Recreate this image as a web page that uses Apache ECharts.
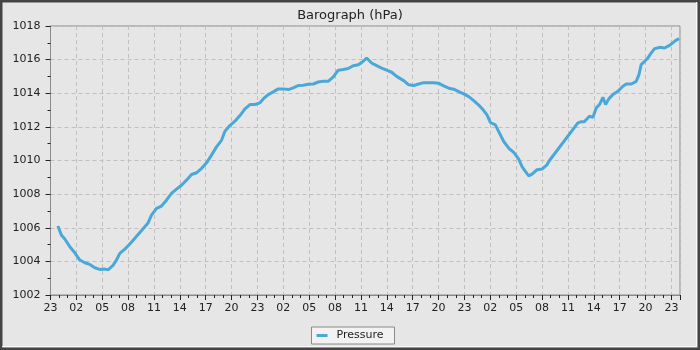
<!DOCTYPE html>
<html>
<head>
<meta charset="utf-8">
<script src="https://cdn.jsdelivr.net/npm/echarts@6/dist/echarts.min.js"></script>
<style>html,body{margin:0;padding:0;background:#e6e6e6;}#c{width:700px;height:350px;}</style>
</head>
<body>
<div id="c"></div>
<script>
// hours since 23:00 of the first day
var hours = [0.85,1.27,1.66,2.24,2.82,3.4,3.98,4.56,5.14,5.72,6.3,6.7,7.27,7.65,8.04,8.62,9.2,9.78,10.36,10.94,11.33,11.71,12.3,12.87,13.45,14.03,14.61,15.19,15.77,16.35,16.93,17.5,18.1,18.67,19.25,19.83,20.23,20.8,21.39,21.97,22.55,23.13,23.7,24.29,24.67,25.25,25.83,26.41,27.0,27.57,28.15,28.73,29.31,29.89,30.47,31.05,31.63,32.2,32.8,33.37,33.95,34.53,35.1,35.7,36.27,36.66,37.24,37.82,38.4,38.98,39.56,40.18,40.96,41.54,42.12,42.7,43.28,43.86,44.44,45.02,45.6,46.18,46.76,47.34,47.92,48.5,49.08,49.66,50.24,50.62,51.01,51.59,51.98,52.56,53.14,53.72,54.3,54.68,55.07,55.46,55.84,56.42,57.0,57.58,57.78,61.16,61.5,61.9,62.1,62.5,62.9,63.29,63.67,64.06,64.37,64.76,65.22,65.8,66.38,66.77,67.35,67.93,68.24,68.5,68.9,69.28,69.67,70.05,70.63,71.21,71.79,72.37,72.88];
var pressure = [1006.1,1005.56,1005.33,1004.87,1004.51,1004.08,1003.92,1003.82,1003.62,1003.52,1003.54,1003.5,1003.78,1004.08,1004.48,1004.73,1005.03,1005.37,1005.72,1006.06,1006.3,1006.75,1007.15,1007.29,1007.64,1008.04,1008.3,1008.53,1008.83,1009.17,1009.27,1009.52,1009.86,1010.32,1010.81,1011.2,1011.74,1012.08,1012.34,1012.67,1013.07,1013.33,1013.33,1013.43,1013.66,1013.92,1014.08,1014.26,1014.26,1014.22,1014.32,1014.46,1014.48,1014.53,1014.55,1014.67,1014.71,1014.71,1014.97,1015.37,1015.41,1015.47,1015.64,1015.7,1015.9,1016.1,1015.8,1015.64,1015.5,1015.37,1015.25,1014.99,1014.75,1014.5,1014.46,1014.55,1014.63,1014.63,1014.63,1014.59,1014.44,1014.3,1014.24,1014.1,1013.96,1013.8,1013.56,1013.3,1012.97,1012.71,1012.26,1012.12,1011.72,1011.13,1010.73,1010.48,1010.08,1009.64,1009.35,1009.09,1009.19,1009.45,1009.49,1009.74,1009.94,1012.24,1012.3,1012.3,1012.3,1012.63,1012.57,1013.13,1013.33,1013.76,1013.33,1013.68,1013.92,1014.12,1014.42,1014.55,1014.55,1014.71,1015.11,1015.7,1015.9,1016.1,1016.4,1016.65,1016.73,1016.69,1016.85,1017.09,1017.25];
var hourLabels = ['23','02','05','08','11','14','17','20','23','02','05','08','11','14','17','20','23','02','05','08','11','14','17','20','23'];
var yTicks = [1002,1004,1006,1008,1010,1012,1014,1016,1018];

var data = hours.map(function(h,i){return [h, pressure[i]];});
var chart = echarts.init(document.getElementById('c'), null, {renderer:'canvas'});
var font = 'DejaVu Sans';
chart.setOption({
  backgroundColor:'#e6e6e6',
  animation:false,
  title:{text:'Barograph (hPa)', left:'center', top:4,
    textStyle:{fontFamily:font, fontSize:13, fontWeight:'normal', color:'#222'}},
  grid:{left:50.5, right:20, top:26, bottom:55, show:true, backgroundColor:'#e6e6e6', borderColor:'#8a8a8a', borderWidth:1},
  legend:{data:['Pressure'], left:'center', top:327, icon:'rect', itemWidth:11, itemHeight:3,
    padding:[3,11,3,5], borderColor:'#8a8a8a', borderWidth:1, backgroundColor:'#f2f2f2', borderRadius:0,
    textStyle:{fontFamily:font, fontSize:11, color:'#222', padding:[0,0,0,4]}},
  xAxis:{type:'value', min:0, max:73, interval:3,
    axisLine:{lineStyle:{color:'#8a8a8a'}},
    axisTick:{show:true, length:5, lineStyle:{color:'#222'}},
    minorTick:{show:true, splitNumber:3, length:3, lineStyle:{color:'#222'}},
    axisLabel:{margin:8, fontFamily:font, fontSize:11, color:'#222', showMaxLabel:false,
      formatter:function(v){var i=Math.round(v/3); return hourLabels[i]!==undefined?hourLabels[i]:'';}},
    splitLine:{show:true, lineStyle:{color:'#c0c0c0', type:[4,3]}}},
  yAxis:{type:'value', min:yTicks[0], max:yTicks[yTicks.length-1], interval:2,
    axisLine:{show:true, lineStyle:{color:'#8a8a8a'}},
    axisTick:{show:true, length:5, lineStyle:{color:'#222'}},
    minorTick:{show:true, splitNumber:2, length:3, lineStyle:{color:'#222'}},
    axisLabel:{margin:10, fontFamily:font, fontSize:11, color:'#222',
      formatter:function(v){return String(Math.round(v));}},
    splitLine:{show:true, lineStyle:{color:'#c0c0c0', type:[4,3]}}},
  series:[{name:'Pressure', type:'line', data:data, showSymbol:false, symbol:'none',
    color:'#4aa8d9', lineStyle:{width:3, color:'#4aa8d9'}}],
  graphic:[
    {type:'rect', shape:{x:1,y:1,width:698,height:348}, style:{fill:'none', stroke:'#444', lineWidth:3}, silent:true, z:100},
    {type:'polyline', shape:{points:[[696.5,2],[696.5,346.5],[2,346.5]]}, style:{fill:'none', stroke:'#f8f8f8', lineWidth:1}, silent:true, z:100}
  ]
});
</script>
</body>
</html>
